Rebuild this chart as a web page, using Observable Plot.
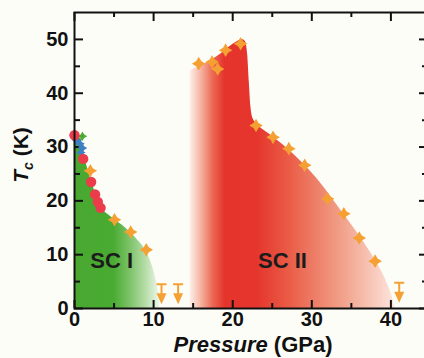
<!DOCTYPE html>
<html>
<head>
<meta charset="utf-8">
<script src="https://cdn.jsdelivr.net/npm/d3@7"></script>
<script src="https://cdn.jsdelivr.net/npm/@observablehq/plot@0.6"></script>
<style>
  html, body { margin: 0; padding: 0; background: #fdfdf8; }
  #chart svg { display: block; }
</style>
</head>
<body>
<div id="chart"></div>
<script>
// ---- Data ----
// SC I region upper boundary (Pressure GPa, Tc K)
const scIP = [0, 0.5, 1, 1.5, 2, 2.5, 3, 3.5, 4.2, 5, 6, 7, 8, 9, 9.7, 10.2, 10.6, 10.8];
const scIT = [31.5, 30.8, 29, 26.8, 24.3, 22, 20, 18.6, 17.5, 16.6, 15.5, 14.2, 12.7, 10.8, 8.5, 6, 3, 0];
// SC II region upper boundary
const scIIP = [14.6, 14.6, 15.5, 16.5, 17.5, 18.5, 19.5, 20.5, 21.2, 21.6, 21.9, 22.1, 22.3, 22.6, 23, 25, 27, 29, 31, 33, 35, 37, 38.5, 39.5, 40.2, 40.5];
const scIIT = [0, 44.0, 44.8, 45.5, 46.3, 47.3, 48.5, 49.5, 50.0, 49.6, 47, 42, 37.5, 35.2, 34.4, 32, 29.6, 26.8, 23.5, 19.6, 15.6, 11.4, 7.8, 4.8, 2, 0];
// red circles
const circP = [0, 1.1, 2.1, 2.6, 2.95, 3.3];
const circT = [32.2, 27.8, 23.5, 21.2, 19.8, 18.7];
// blue markers
const blueP = [0.3, 0.7, 1.0, 0.8];
const blueT = [31.2, 30.6, 29.8, 29.0];
// green markers
const greenP = [1.0, 0.4];
const greenT = [32.0, 31.4];
// orange stars
const starP = [2.0, 5.06, 7.1, 9.07, 15.7, 17.4, 18.1, 19.1, 21.0, 22.95, 25.1, 27.1, 29.1, 32.0, 34.05, 36.0, 38.0];
const starT = [25.6, 16.5, 14.2, 10.9, 45.5, 45.8, 44.5, 48.0, 49.2, 34.0, 31.8, 29.7, 26.6, 20.4, 17.6, 13.1, 8.8];
// upper limits (arrows)
const limP = [11.0, 13.1, 41.05];
const limT = [4.5, 4.5, 4.8];
// phase labels
const phaseNames = ["SC I", "SC II"];
const phaseP = [4.7, 26.3];
const phaseT = [8.9, 8.9];
// ticks
const xMajor = [0, 10, 20, 30, 40];
const xMinor = [5, 15, 25, 35];
const yMajor = [0, 10, 20, 30, 40, 50];
const yMinor = [5, 15, 25, 35, 45];
const xTickLabels = ["0", "10", "20", "30", "40"];
const yTickLabels = ["0", "10", "20", "30", "40", "50"];

// ---- build tables ----
const zip = (xs, ys) => xs.map((x, i) => ({x, y: ys[i]}));
const scI = zip(scIP, scIT);
const scII = zip(scIIP, scIIT);
const circles = zip(circP, circT);
const blues = zip(blueP, blueT);
const greens = zip(greenP, greenT);
const stars = zip(starP, starT);
const limits = zip(limP, limT);
const phases = phaseNames.map((t, i) => ({t, x: phaseP[i], y: phaseT[i]}));

// ---- custom symbols ----
const star4 = {
  draw(ctx, size) {
    const r = Math.sqrt(size / Math.PI), k = r * 0.37;
    ctx.moveTo(0, -r); ctx.lineTo(k, -k); ctx.lineTo(r, 0); ctx.lineTo(k, k);
    ctx.lineTo(0, r); ctx.lineTo(-k, k); ctx.lineTo(-r, 0); ctx.lineTo(-k, -k);
    ctx.closePath();
  }
};
const limitArrow = {
  draw(ctx, size) {
    const u = Math.sqrt(size / Math.PI);
    ctx.moveTo(-5 * u, -1 * u); ctx.lineTo(5 * u, -1 * u); ctx.lineTo(5 * u, 1 * u); ctx.lineTo(-5 * u, 1 * u); ctx.closePath();
    ctx.moveTo(-1 * u, 0); ctx.lineTo(1 * u, 0); ctx.lineTo(1 * u, 10 * u); ctx.lineTo(-1 * u, 10 * u); ctx.closePath();
    ctx.moveTo(-5 * u, 9 * u); ctx.lineTo(5 * u, 9 * u); ctx.lineTo(0, 20 * u); ctx.closePath();
  }
};

const W = 424, H = 358, mL = 74, mR = -2, mT = 12, mB = 50;
const pw = W - mL - mR, ph = H - mT - mB;
const orange = "#f5a033";
const font = "'Liberation Sans', Arial, sans-serif";

const chart = Plot.plot({
  width: W, height: H,
  marginLeft: mL, marginRight: mR, marginTop: mT, marginBottom: mB,
  x: {domain: [0, 44.5], axis: null},
  y: {domain: [0, 55], axis: null},
  style: {background: "#fdfdf8", fontFamily: font, color: "#111"},
  marks: [
    Plot.areaY(scI, {x: "x", y: "y", fill: "url(#gGreen)", curve: "monotone-x"}),
    Plot.areaY(scII, {x: "x", y: "y", fill: "url(#gRed)", curve: "monotone-x"}),
    Plot.text(phases, {x: "x", y: "y", text: "t", fontSize: 22, fontWeight: "bold", fill: "#1c1c1c"}),
    Plot.tickX(xMajor, {x: d => d, insetTop: ph - 8, stroke: "#111", strokeWidth: 2}),
    Plot.tickX(xMinor, {x: d => d, insetTop: ph - 5, stroke: "#111", strokeWidth: 2}),
    Plot.tickX(xMajor, {x: d => d, insetBottom: ph - 9, stroke: "#111", strokeWidth: 2}),
    Plot.tickX(xMinor, {x: d => d, insetBottom: ph - 5, stroke: "#111", strokeWidth: 2}),
    Plot.tickY(yMajor, {y: d => d, insetRight: pw - 9, stroke: "#111", strokeWidth: 2}),
    Plot.tickY(yMinor, {y: d => d, insetRight: pw - 6, stroke: "#111", strokeWidth: 2}),
    Plot.tickY(yMajor, {y: d => d, insetLeft: pw - 7, stroke: "#111", strokeWidth: 2}),
    Plot.tickY(yMinor, {y: d => d, insetLeft: pw - 4, stroke: "#111", strokeWidth: 2}),
    Plot.dot(greens, {x: "x", y: "y", symbol: star4, r: 4.8, fill: "#4aab32", stroke: "none"}),
    Plot.dot(blues, {x: "x", y: "y", symbol: star4, r: 4.8, fill: "#3f7fc4", stroke: "none"}),
    Plot.dot(circles, {x: "x", y: "y", r: 5.2, fill: "#eb3c4b", stroke: "none"}),
    Plot.dot(stars, {x: "x", y: "y", symbol: star4, r: 6.8, fill: orange, stroke: "none"}),
    Plot.dot(limits, {x: "x", y: "y", symbol: limitArrow, r: 1, fill: orange, stroke: "none"}),
    Plot.text(xMajor, {x: d => d, text: (d, i) => xTickLabels[i], frameAnchor: "bottom", dy: 17, fontSize: 20, fontWeight: "bold", fill: "#111"}),
    Plot.text(yMajor, {y: d => d, text: (d, i) => yTickLabels[i], frameAnchor: "left", dx: -6, textAnchor: "end", fontSize: 20, fontWeight: "bold", fill: "#111"}),
    Plot.frame({stroke: "#111", strokeWidth: 2})
  ]
});

// gradients built from the x scale
const xs = chart.scale("x");
const svg = d3.select(chart);
const defs = svg.insert("defs", ":first-child");
function gradient(id, stops) {
  const x1 = xs.apply(stops[0][0]), x2 = xs.apply(stops[stops.length - 1][0]);
  const g = defs.append("linearGradient").attr("id", id).attr("gradientUnits", "userSpaceOnUse")
    .attr("x1", x1).attr("x2", x2).attr("y1", 0).attr("y2", 0);
  for (const [v, c] of stops) g.append("stop").attr("offset", (xs.apply(v) - x1) / (x2 - x1)).attr("stop-color", c);
}
gradient("gGreen", [[0, "#48a831"], [5, "#4aab32"], [7, "#7cc267"], [9, "#b5dca7"], [10.9, "#f2f9ee"]]);
gradient("gRed", [[14.6, "#fdf1ec"], [16, "#f6b5a3"], [17.5, "#ec6a55"], [19, "#e5342b"], [23, "#e5352c"], [27, "#ea5a45"], [33, "#f09880"], [37, "#f6c0b0"], [40.6, "#fde6de"]]);

// axis titles
const ylab = svg.append("text")
  .attr("transform", "translate(28,155) rotate(-90)")
  .attr("text-anchor", "middle")
  .attr("font-family", font).attr("font-weight", "bold").attr("font-size", 21).attr("fill", "#111");
ylab.append("tspan").attr("font-style", "italic").text("T");
ylab.append("tspan").attr("font-style", "italic").attr("font-size", 14).attr("dy", 5).text("c");
ylab.append("tspan").attr("dy", -5).text(" (K)");

const xlab = svg.append("text")
  .attr("x", 253).attr("y", 352)
  .attr("text-anchor", "middle")
  .attr("font-family", font).attr("font-weight", "bold").attr("font-size", 22).attr("fill", "#111");
xlab.append("tspan").attr("font-style", "italic").text("Pressure");
xlab.append("tspan").text(" (GPa)");

document.getElementById("chart").appendChild(chart);
</script>
</body>
</html>
